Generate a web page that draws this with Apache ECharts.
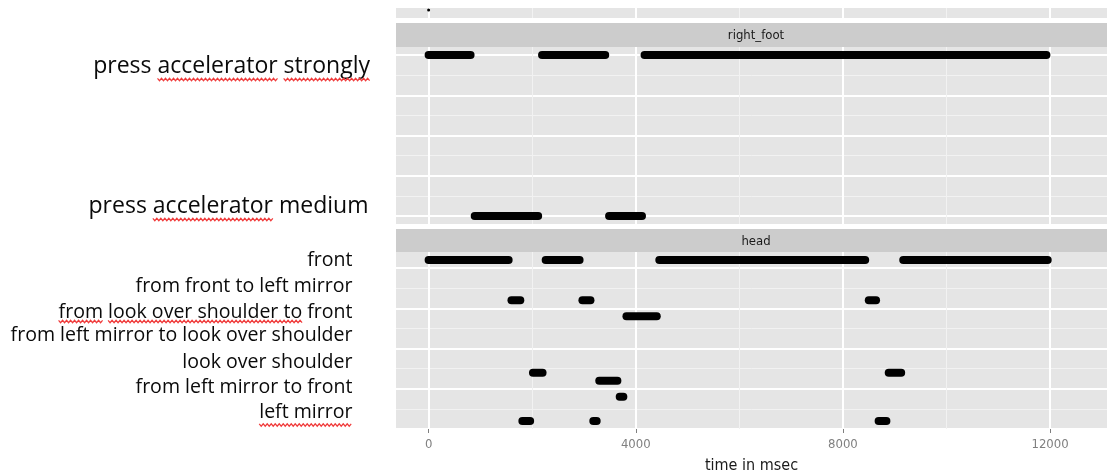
<!DOCTYPE html>
<html>
<head>
<meta charset="utf-8">
<script src="https://cdn.jsdelivr.net/npm/echarts@6/dist/echarts.min.js"></script>
<style>
html, body { margin: 0; padding: 0; background: #ffffff; }
#chart { width: 1107px; height: 475px; }
</style>
</head>
<body>
<div id="chart"></div>
<script>
// ---- time axis (msec) ----
const timeTicks = [0, 4000, 8000, 12000];
const timeMinorTicks = [2000, 6000, 10000];
const timeRange = [-630, 13100];

// ---- right_foot facet ----
const footLabels = ['press accelerator strongly', 'press accelerator medium'];
const footRowTicks = [1, 2, 3, 4, 5];
const footRowMinor = [1.5, 2.5, 3.5, 4.5];
const footRange = [0.8, 5.2];
const footRow   = [1, 1, 1, 5, 5];
const footStart = [0, 2190, 4170, 890, 3485];
const footEnd   = [810, 3410, 11930, 2115, 4120];

// ---- head facet ----
const headLabels = [
  'front',
  'from front to left mirror',
  'from look over shoulder to front',
  'from left mirror to look over shoulder',
  'look over shoulder',
  'from left mirror to front',
  'left mirror'
];
const headRowTicks = [1, 2, 3, 4, 5];
const headRowMinor = [1.5, 2.5, 3.5, 4.5];
const headRange = [0.6, 5.0];
const headRow   = [0.8, 0.8, 0.8, 0.8, 1.8, 1.8, 1.8, 2.2, 3.6, 3.6, 3.8, 4.2, 4.8, 4.8, 4.8];
const headStart = [0, 2260, 4455, 9165, 1600, 2970, 8500, 3820, 2015, 8885, 3295, 3690, 1810, 3180, 8690];
const headEnd   = [1545, 2915, 8430, 11955, 1770, 3125, 8640, 4405, 2200, 9125, 3645, 3760, 1960, 3245, 8840];

// ---- facet above (only its lower edge is in view) ----
const topRange = [0, 1];
const topRow   = [0.2];
const topStart = [0];
const topEnd   = [0];

// ---- fonts / layout ----
const NARROW = "'Liberation Sans Narrow', 'DejaVu Sans Condensed', 'Liberation Sans', sans-serif";
const WORD = "'Open Sans', 'Noto Sans', sans-serif";
const PANEL_LEFT = 396, PANEL_WIDTH = 720;
const BAR_WIDTH = 8, TOP_BAR_WIDTH = 3;
const panels = [
  { top: 8, height: 10 },
  { top: 47, height: 177 },
  { top: 252, height: 177 }
];
const strips = [
  { text: 'right_foot', top: 23, height: 24 },
  { text: 'head', top: 229, height: 23 }
];
const footLayout = { right: [370, 368.5], baseline: [73.3, 213.3], fitText: 0, fitWidth: 277 };
const headLayout = { right: 352.5, baseline: [266.7, 292.7, 318.3, 341.7, 368.3, 393.3, 418.3], fitText: 3, fitWidth: 342 };
// spell-check style underlines: [group, label index, first char, end char, y]
const squiggles = [
  ['foot', 0, 6, 17, 79.5],
  ['foot', 0, 18, 26, 79.5],
  ['foot', 1, 6, 17, 219.5],
  ['head', 2, 0, 4, 321.5],
  ['head', 2, 5, 26, 321.5],
  ['head', 6, 0, 11, 425]
];

const measure = document.createElement('canvas').getContext('2d');
function textWidth(str, size, family) {
  measure.font = size + 'px ' + family;
  return measure.measureText(str).width;
}
function fitSize(str, width, family) {
  return 100 * width / textWidth(str, 100, family);
}
const footSize = fitSize(footLabels[footLayout.fitText], footLayout.fitWidth, WORD);
const headSize = fitSize(headLabels[headLayout.fitText], headLayout.fitWidth, WORD);
const MID = 0.30; // distance from baseline to the 'middle' anchor (em)

function rows(start, end, row) {
  return start.map((s, i) => [s, end[i], row[i]]);
}

function segmentRenderer(width) {
  return function (params, api) {
    const a = api.coord([api.value(0), api.value(2)]);
    const b = api.coord([api.value(1), api.value(2)]);
    return {
      type: 'line',
      shape: { x1: a[0], y1: a[1], x2: b[0] + 0.01, y2: b[1] },
      style: { stroke: '#000000', lineWidth: width, lineCap: 'round' }
    };
  };
}

function timeAxis(g, major) {
  const shown = major && g === 2;
  const values = major ? timeTicks : timeMinorTicks;
  return {
    type: 'value', gridIndex: g, position: major ? 'bottom' : 'top',
    min: timeRange[0], max: timeRange[1],
    axisLine: { show: false },
    axisTick: { show: shown, customValues: values, length: 4, lineStyle: { color: '#7f7f7f', width: 1 } },
    axisLabel: { show: shown, customValues: values, margin: 9, color: '#808080', fontFamily: NARROW, fontSize: 13,
      formatter: v => String(v) },
    splitLine: { show: true, showMinLine: true, showMaxLine: true,
      lineStyle: { color: major ? '#ffffff' : '#f2f2f2', width: major ? 2 : 1 } },
    name: shown ? 'time in msec' : '',
    nameLocation: 'middle', nameGap: 29,
    nameTextStyle: { color: '#1a1a1a', fontFamily: NARROW, fontSize: 16 }
  };
}

function rowAxis(g, major, range, ticks, grid) {
  return {
    type: 'value', gridIndex: g, position: major ? 'left' : 'right', inverse: true,
    min: range[0], max: range[1],
    axisLine: { show: false },
    axisTick: { show: false, customValues: ticks },
    axisLabel: { show: false, customValues: ticks },
    splitLine: { show: grid, showMinLine: true, showMaxLine: true,
      lineStyle: { color: major ? '#ffffff' : '#f2f2f2', width: major ? 2 : 1 } }
  };
}

const graphic = [];
strips.forEach(s => {
  graphic.push({ type: 'rect', shape: { x: PANEL_LEFT, y: s.top, width: PANEL_WIDTH, height: s.height },
    style: { fill: '#cccccc' }, silent: true });
  graphic.push({ type: 'text', x: PANEL_LEFT + PANEL_WIDTH / 2, y: s.top + s.height / 2 + 1,
    style: { text: s.text, fill: '#1a1a1a', font: '13px ' + NARROW, align: 'center', verticalAlign: 'middle' }, silent: true });
});
footLabels.forEach((t, i) => {
  graphic.push({ type: 'text', x: footLayout.right[i], y: footLayout.baseline[i] - MID * footSize,
    style: { text: t, fill: '#0a0a0a', font: footSize.toFixed(2) + 'px ' + WORD, align: 'right', verticalAlign: 'middle' }, silent: true });
});
headLabels.forEach((t, i) => {
  graphic.push({ type: 'text', x: headLayout.right, y: headLayout.baseline[i] - MID * headSize,
    style: { text: t, fill: '#0a0a0a', font: headSize.toFixed(2) + 'px ' + WORD, align: 'right', verticalAlign: 'middle' }, silent: true });
});
squiggles.forEach(([group, idx, c0, c1, y]) => {
  const label = group === 'foot' ? footLabels[idx] : headLabels[idx];
  const size = group === 'foot' ? footSize : headSize;
  const right = group === 'foot' ? footLayout.right[idx] : headLayout.right;
  const left = right - textWidth(label, size, WORD);
  const x0 = left + textWidth(label.slice(0, c0), size, WORD);
  const x1 = left + textWidth(label.slice(0, c1), size, WORD);
  const pts = [];
  let up = true;
  for (let x = x0; x <= x1; x += 2) { pts.push([x, y + (up ? -1.2 : 1.2)]); up = !up; }
  graphic.push({ type: 'polyline', shape: { points: pts },
    style: { stroke: '#f03c3c', lineWidth: 1.2, fill: null }, silent: true });
});

const option = {
  animation: false,
  backgroundColor: '#ffffff',
  grid: panels.map(p => ({
    left: PANEL_LEFT, width: PANEL_WIDTH, top: p.top, height: p.height,
    show: true, backgroundColor: '#e5e5e5', borderWidth: 0
  })),
  xAxis: [0, 1, 2].flatMap(g => [timeAxis(g, false), timeAxis(g, true)]),
  yAxis: [
    rowAxis(0, false, topRange, [], false), rowAxis(0, true, topRange, [], false),
    rowAxis(1, false, footRange, footRowMinor, true), rowAxis(1, true, footRange, footRowTicks, true),
    rowAxis(2, false, headRange, headRowMinor, true), rowAxis(2, true, headRange, headRowTicks, true)
  ],
  series: [
    { type: 'custom', name: 'top', xAxisIndex: 1, yAxisIndex: 1, clip: true,
      renderItem: segmentRenderer(TOP_BAR_WIDTH), encode: { x: [0, 1], y: 2 }, data: rows(topStart, topEnd, topRow) },
    { type: 'custom', name: 'right_foot', xAxisIndex: 3, yAxisIndex: 3, clip: true,
      renderItem: segmentRenderer(BAR_WIDTH), encode: { x: [0, 1], y: 2 }, data: rows(footStart, footEnd, footRow) },
    { type: 'custom', name: 'head', xAxisIndex: 5, yAxisIndex: 5, clip: true,
      renderItem: segmentRenderer(BAR_WIDTH), encode: { x: [0, 1], y: 2 }, data: rows(headStart, headEnd, headRow) }
  ],
  graphic: graphic
};

const chart = echarts.init(document.getElementById('chart'), null, { renderer: 'canvas' });
chart.setOption(option);
</script>
</body>
</html>
